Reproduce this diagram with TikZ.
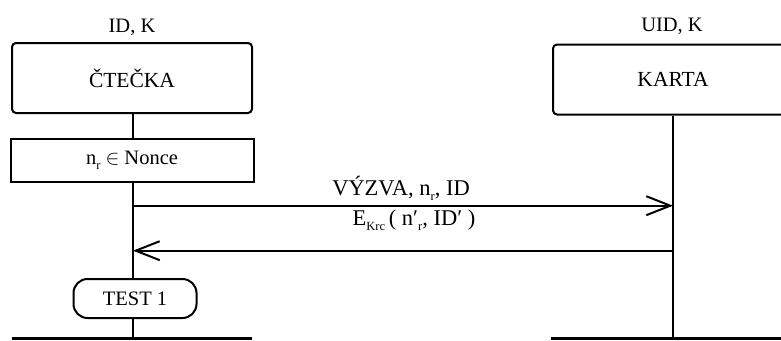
\documentclass[tikz,border=0pt]{standalone}
\usepackage{fontspec}
\setmainfont{Liberation Serif}
\usetikzlibrary{arrows.meta}
\newcommand\mysub[1]{\raisebox{-0.5ex}{\fontsize{12.5}{13}\selectfont #1}}
\begin{document}
\begin{tikzpicture}[x=1pt,y=-1pt,
  lw/.style={line width=2pt},
  partbox/.style={draw,lw,rounded corners=4pt,minimum width=240pt,minimum height=70pt,inner sep=0pt,font=\fontsize{21.5}{24}\selectfont},
  stepbox/.style={draw,lw,minimum width=243pt,minimum height=43pt,inner sep=0pt,font=\fontsize{20.5}{24}\selectfont},
  testbox/.style={draw,lw,rounded corners=14pt,minimum width=123pt,minimum height=39pt,inner sep=0pt,font=\fontsize{20.5}{24}\selectfont},
  toplabel/.style={inner sep=0pt,font=\fontsize{20.5}{24}\selectfont},
  msglabel/.style={inner sep=0pt,anchor=base,font=\fontsize{22.5}{26}\selectfont},
  msg/.style={lw,-{Straight Barb[length=24pt,width=19pt,line width=2pt]}},
  baseline/.style={line width=3pt}
]
\useasboundingbox (0,0) rectangle (781,340);
\clip (0,0) rectangle (781,340);
% participants
\node[partbox] (reader) at (132,78) {ČTEČKA};
\node[toplabel] (readerlbl) at (132,27) {ID, K};
\node[partbox] (card) at (673,79.5) {KARTA};
\node[toplabel] (cardlbl) at (672,26) {UID, K};
% steps
\node[stepbox] (nonce) at (132,160) {n\mysub{r} $\in$ Nonce};
\node[testbox] (test) at (135,298.5) {TEST 1};
% base lines
\coordinate (leftbase) at (133,338.5);
\coordinate (rightbase) at (673,338.5);
\coordinate (lbl) at (12,338.5);
\coordinate (lbr) at (252,338.5);
\coordinate (rbl) at (551,338.5);
\coordinate (rbr) at (800,338.5);
\draw[baseline] (lbl) -- (lbr);
\draw[baseline] (rbl) -- (rbr);
% lifelines
\draw[lw] (reader.south -| leftbase) -- (nonce.north -| leftbase);
\draw[lw] (nonce.south -| leftbase) -- (test.north -| leftbase);
\draw[lw] (test.south -| leftbase) -- (leftbase);
\draw[lw] (card.south -| rightbase) -- (rightbase);
% messages
\coordinate (m1s) at (133,205.7);
\coordinate (m1e) at (673,205.7);
\coordinate (m2s) at (673,250.7);
\coordinate (m2e) at (133,250.7);
\draw[msg] (m1s) -- (m1e);
\draw[msg] (m2s) -- (m2e);
\node[msglabel] (m1lbl) at (401,195) {VÝZVA, n\mysub{r}, ID};
\node[msglabel] (m2lbl) at (414,225) {E\mysub{Krc}\,( n′\mysub{r}, ID′ )};
\end{tikzpicture}
\end{document}
